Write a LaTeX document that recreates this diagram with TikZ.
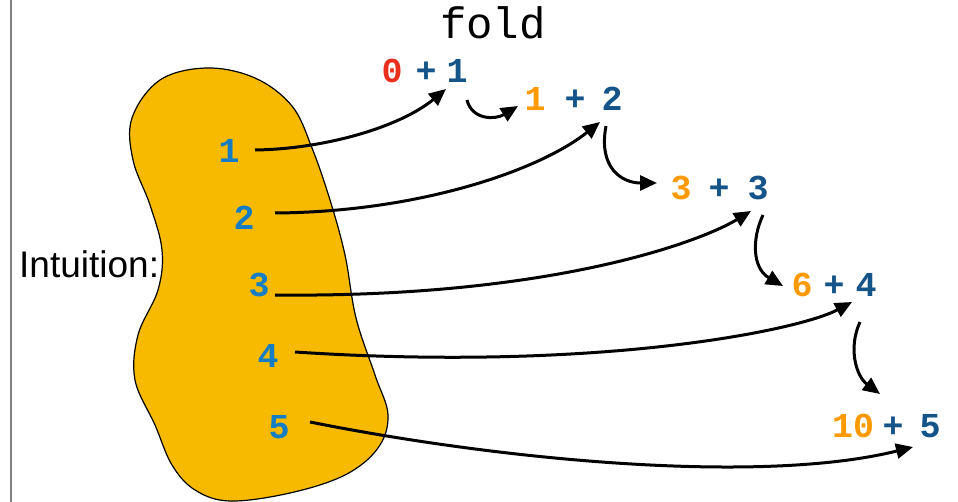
\documentclass[tikz,border=0pt]{standalone}
\usepackage{fontspec}
\setmainfont{Liberation Sans}
\newfontfamily\monofont{Liberation Mono}
\usetikzlibrary{arrows.meta}
\definecolor{blobgold}{RGB}{247,186,0}
\definecolor{numred}{RGB}{232,48,28}
\definecolor{numorange}{RGB}{255,153,0}
\definecolor{numdark}{RGB}{20,84,136}
\definecolor{numlight}{RGB}{20,125,195}
\begin{document}
\begin{tikzpicture}[x=1pt,y=-1pt,
  num/.style={font=\monofont\bfseries\fontsize{35}{35}\selectfont, anchor=base, inner sep=0pt},
  arr/.style={line width=3pt, -{Triangle[length=17pt,width=15pt]}},
]
\useasboundingbox (0,0) rectangle (958,502);
\draw[gray, line width=1.5pt] (11,0) -- (11,502);
% blob
\draw[fill=blobgold, line width=1.2pt] plot[smooth cycle, tension=0.6] coordinates {
 (207,68) (255,78) (292,106) (312,148) (330,200) (345,255) (356,318) (375,375) (388,415)
 (378,448) (345,475) (290,493) (230,501) (195,490) (172,465) (155,425) (135,380)
 (138,335) (158,290) (162,250) (150,205) (133,160) (132,118) (160,80)};
% texts
\node[font=\monofont\fontsize{44}{44}\selectfont, anchor=base, inner sep=0pt] (fold) at (493,39) {fold};
\node[font=\fontsize{37}{37}\selectfont, anchor=base west, inner sep=0pt] (intu) at (19,278) {Intuition:};
% inputs
\node[num, numlight] (in1) at (229,163) {1};
\node[num, numlight] (in2) at (244,230) {2};
\node[num, numlight] (in3) at (259,297) {3};
\node[num, numlight] (in4) at (268,367) {4};
\node[num, numlight] (in5) at (279,438) {5};
% expressions
\node[num, numred] (a0) at (392,83) {0};
\node[num, numdark] (ap) at (426,83) {+};
\node[num, numdark] (a1) at (457,83) {1};
\node[num, numorange] (b0) at (535,111) {1};
\node[num, numdark] (bp) at (575,111) {+};
\node[num, numdark] (b1) at (612,111) {2};
\node[num, numorange] (c0) at (681,200) {3};
\node[num, numdark] (cp) at (719,200) {+};
\node[num, numdark] (c1) at (758,200) {3};
\node[num, numorange] (d0) at (802,297) {6};
\node[num, numdark] (dp) at (834,297) {+};
\node[num, numdark] (d1) at (866,297) {4};
\node[num, numorange] (e0) at (853,437) {10};
\node[num, numdark] (ep) at (893,437) {+};
\node[num, numdark] (e1) at (930,437) {5};
% connector endpoints
\coordinate (s1) at (255,150); \coordinate (t1) at (446,89);
\coordinate (s2) at (275,213); \coordinate (t2) at (600,122);
\coordinate (s3) at (275,295); \coordinate (t3) at (751,211);
\coordinate (s4) at (295,352); \coordinate (t4) at (852,302);
\coordinate (s5) at (310,422); \coordinate (t5) at (913,447);
\coordinate (ca) at (467,100); \coordinate (ta) at (518,106);
\coordinate (cb) at (606,126); \coordinate (tb) at (657,183);
\coordinate (cc) at (763,215); \coordinate (tc) at (783,286);
\coordinate (cd) at (860,322); \coordinate (td) at (880,394);
% arrows from inputs
\draw[arr] (s1) .. controls (325,149) and (400,127) .. (t1);
\draw[arr] (s2) .. controls (420,212) and (540,170) .. (t2);
\draw[arr] (s3) .. controls (550,298) and (700,242) .. (t3);
\draw[arr] (s4) .. controls (600,372) and (800,330) .. (t4);
\draw[arr] (s5) .. controls (500,460) and (760,485) .. (t5);
% chain arrows
\draw[arr] (ca) .. controls (472,120) and (495,120) .. (ta);
\draw[arr] (cb) .. controls (598,168) and (622,183) .. (tb);
\draw[arr] (cc) .. controls (752,238) and (752,268) .. (tc);
\draw[arr] (cd) .. controls (848,348) and (856,376) .. (td);
\end{tikzpicture}
\end{document}
